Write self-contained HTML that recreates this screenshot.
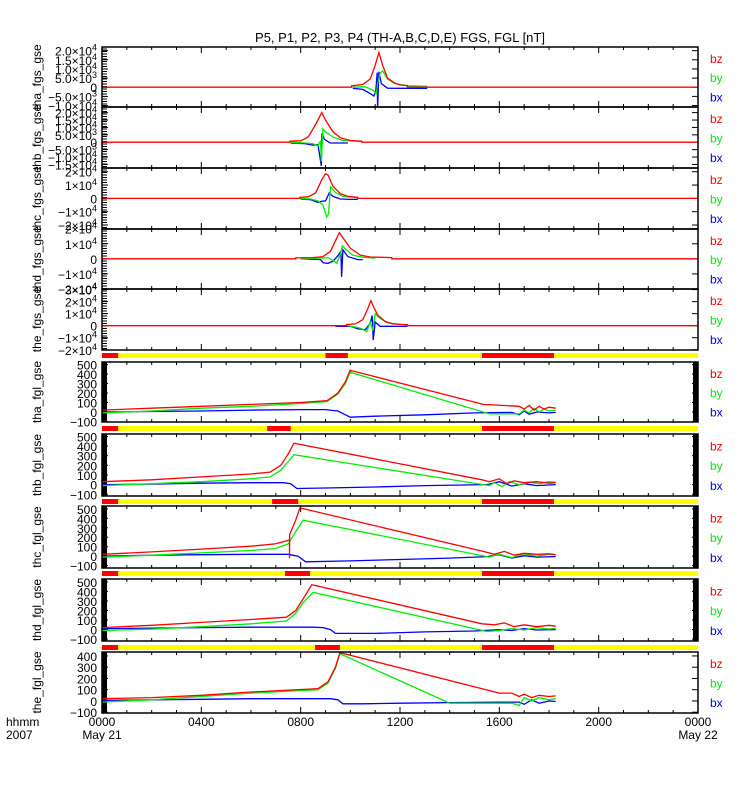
<!DOCTYPE html>
<html><head><meta charset="utf-8"><style>
body{margin:0;background:#fff;}
svg{display:block;font-family:"Liberation Sans",sans-serif;}
</style></head><body>
<svg id="chart" width="750" height="800" viewBox="0 0 750 800">
<rect width="750" height="800" fill="#fff"/>
<text x="400" y="42" text-anchor="middle" font-size="13">P5, P1, P2, P3, P4 (TH-A,B,C,D,E) FGS, FGL [nT]</text>
<g id="plots"></g>
</svg>
<script>
// ---- x axis
const xTickHours=[0,4,8,12,16,20,24];
const xTickLabels=["0000","0400","0800","1200","1600","2000","0000"];
const xTickSub=["May 21","","","","","","May 22"];
// ---- FGS panels
const fgsNames=["tha_fgs_gse","thb_fgs_gse","thc_fgs_gse","thd_fgs_gse","the_fgs_gse"];
const fgsTickVals=[[20000,15000,10000,5000,0,-5000,-10000],[20000,15000,10000,5000,0,-5000,-10000,-15000],[20000,10000,0,-10000,-20000],[20000,10000,0,-10000,-20000],[30000,20000,10000,0,-10000,-20000]];
const fgsTickText=[["2.0×10|4","1.5×10|4","1.0×10|4","5.0×10|3","0","−5.0×10|3","−1.0×10|4"],["2.0×10|4","1.5×10|4","1.0×10|4","5.0×10|3","0","−5.0×10|3","−1.0×10|4","−1.5×10|4"],["2×10|4","1×10|4","0","−1×10|4","−2×10|4"],["2×10|4","1×10|4","0","−1×10|4","−2×10|4"],["3×10|4","2×10|4","1×10|4","0","−1×10|4","−2×10|4"]];
const fgsRange=[[-10800,22000],[-17400,23800],[-23000,22800],[-20000,19800],[-20200,30500]];
// tha fgs
const thaSzT=[0,10.05,10.05,10.5,10.8,11.0,11.15,11.3,11.5,11.8,12.0,12.3,12.3,24];
const thaSz=[0,0,800,1500,4500,12000,19000,12000,5000,2200,1200,900,0,0];
const thaSyT=[10.1,10.6,10.9,11.05,11.1,11.2,11.3,11.5,11.8,12.3,13.1];
const thaSy=[0,300,-1500,-3500,2000,7500,9000,4500,2000,800,500];
const thaSxT=[10.1,10.5,10.8,10.95,11.02,11.08,11.1,11.15,11.25,11.5,12.0,13.1];
const thaSx=[-600,-1200,-3500,-4800,-2500,8000,-12000,8500,2000,-500,-600,-600];
// thb fgs
const thbSzT=[0,7.57,7.57,8.0,8.3,8.6,8.85,9.0,9.3,9.6,10.0,10.46,10.46,24];
const thbSz=[0,0,800,1000,3500,12000,20000,15000,7000,3000,1200,800,0,0];
const thbSyT=[7.6,8.2,8.5,8.7,8.8,8.83,8.9,9.0,9.3,9.7,10.46];
const thbSy=[0,-500,-1000,-2500,1000,-13000,9000,7000,3500,1200,500];
const thbSxT=[7.6,8.2,8.5,8.7,8.83,8.86,8.95,9.2,9.6,9.9];
const thbSx=[-500,-1000,-2000,-1500,-16000,6000,2000,-500,-500,-500];
// thc fgs
const thcSzT=[0,7.97,7.97,8.3,8.6,8.85,9.0,9.1,9.3,9.6,9.9,10.3,10.3,24];
const thcSz=[0,0,800,1200,4000,14000,18500,17500,9000,3500,1500,800,0,0];
const thcSyT=[8.0,8.4,8.7,8.9,9.05,9.12,9.2,9.4,9.7,10.3];
const thcSy=[0,-500,-2000,-5000,-14000,-12000,8700,4500,1500,500];
const thcSxT=[8.0,8.4,8.7,8.9,9.0,9.15,9.3,9.6,10.0,10.3];
const thcSx=[-500,-1000,-3000,-2000,-2000,4000,1500,-500,-800,-800];
// thd fgs
const thdSzT=[0,7.8,7.8,8.5,8.9,9.2,9.4,9.56,9.7,10.0,10.4,10.8,11.67,11.67,24];
const thdSz=[0,0,600,800,1500,5000,12000,17400,14000,7000,2500,1200,800,0,0];
const thdSyT=[8.0,8.8,9.1,9.3,9.45,9.6,9.68,9.8,10.1,10.5,11.0];
const thdSy=[0,500,800,-1000,-3000,3000,8700,6500,2500,1000,500];
const thdSxT=[8.0,8.8,8.9,9.1,9.3,9.5,9.62,9.65,9.7,9.9,10.3,10.5];
const thdSx=[0,-500,-2500,-3000,-1500,2000,5000,-12000,6000,1500,-500,-500];
// the fgs
const theSzT=[0,9.85,9.85,10.2,10.5,10.7,10.83,10.95,11.1,11.4,11.7,12.3,12.3,24];
const theSz=[0,0,1000,1500,5000,14000,20800,15000,9000,3500,1500,800,0,0];
const theSyT=[9.9,10.3,10.5,10.66,10.8,10.9,11.0,11.2,11.5,12.0];
const theSy=[0,-1500,-3000,-5000,3000,-4000,10000,6000,2500,1000];
const theSxT=[9.4,10.0,10.3,10.6,10.8,10.88,10.92,11.0,11.2,11.6,12.3];
const theSx=[-500,-500,-2500,-3500,2000,8500,-12000,3000,-500,-500,-500];
// ---- FGL panels
const fglNames=["tha_fgl_gse","thb_fgl_gse","thc_fgl_gse","thd_fgl_gse","the_fgl_gse"];
const fglTickVals=[[500,400,300,200,100,0,-100],[500,400,300,200,100,0,-100],[500,400,300,200,100,0,-100],[500,400,300,200,100,0,-100],[400,300,200,100,0,-100]];
const fglRange=[[-106,528],[-118,525],[-125,530],[-120,530],[-107,435]];
const thaLzT=[0,2,4,6,8,9.06,9.5,9.8,9.99,15.35,16.8,17.0,17.2,17.4,17.6,17.8,18.0,18.27];
const thaLz=[20,40,60,80,100,120,200,320,440,80,60,30,70,20,60,30,50,40];
const thaLyT=[0,2,4,6,8,9.06,9.5,9.8,9.99,15.6,16.8,17.0,17.2,17.4,17.6,17.8,18.0,18.27];
const thaLy=[-10,10,40,60,90,110,190,300,420,-20,-20,20,-10,40,0,30,10,20];
const thaLxT=[0,2,4,6,8,9.0,9.5,9.8,10.0,11,13,15,16.5,16.8,17.0,17.2,17.5,18.0,18.27];
const thaLx=[0,5,10,20,25,25,10,-30,-55,-45,-30,-10,-5,-30,10,-25,0,-10,-5];
const thbLzT=[0,2,4,6,6.77,7.2,7.5,7.73,15.3,15.6,16,16.3,16.6,17,17.5,18,18.27];
const thbLz=[30,50,80,110,130,200,320,430,50,30,60,10,40,20,30,15,20];
const thbLyT=[0,2,4,6,6.77,7.2,7.5,7.73,15.6,15.8,16.1,16.4,16.8,17.2,17.6,18,18.27];
const thbLy=[-10,10,30,60,80,150,240,310,-10,20,-20,30,0,25,10,30,25];
const thbLxT=[0,2,4,6,7.3,7.6,7.85,9,11,13,15.5,16,16.5,17,17.5,18.27];
const thbLx=[0,5,15,20,20,10,-40,-35,-25,-10,0,30,-15,10,-10,0];
const thcLzT=[0,2,4,6,6.97,7.55,7.55,7.56,7.8,7.97,15.35,15.8,16.2,16.6,17,17.5,18,18.27];
const thcLz=[20,45,75,105,130,170,-20,230,380,510,50,20,50,10,30,20,25,15];
const thcLyT=[0,2,4,6,6.97,7.5,7.8,8.1,15.6,16,16.5,17,17.5,18,18.27];
const thcLy=[-10,10,35,60,80,130,260,380,-10,20,-15,25,0,20,15];
const thcLxT=[0,2,4,6,7.5,7.9,8.2,10,12,14,15.5,16,16.5,17,17.5,18.27];
const thcLx=[0,10,15,20,20,0,-60,-50,-35,-20,-5,15,-20,5,-10,-5];
const thdLzT=[0,2,4,6,7.43,7.8,8.1,8.45,15.3,15.8,16.2,16.6,17,17.5,18,18.27];
const thdLz=[20,45,75,105,130,200,320,470,60,50,70,30,50,30,45,35];
const thdLyT=[0,2,4,6,7.43,7.8,8.1,8.5,15.5,16,16.5,17,17.5,18,18.27];
const thdLy=[-10,5,30,60,90,170,280,390,-20,-10,10,-5,20,5,15];
const thdLxT=[0,2,4,6,8.5,8.9,9.2,9.4,11,13,15,16,16.5,17,17.5,18.27];
const thdLx=[10,15,20,25,25,20,0,-40,-40,-25,-15,0,-10,10,-5,0];
const theLzT=[0,2,4,6,8.7,9.1,9.4,9.58,16.0,16.5,16.8,17,17.3,17.6,18,18.27];
const theLz=[20,30,50,80,110,170,300,430,70,70,40,60,30,50,40,45];
const theLyT=[0,2,4,6,8.7,9.1,9.4,9.58,14,16.5,16.8,17,17.3,17.6,18,18.27];
const theLy=[-10,10,40,70,100,160,290,420,-20,-20,-40,30,0,30,10,20];
const theLxT=[0,2,4,6,9.2,9.5,9.7,10.5,12,14,16,16.8,17,17.3,17.6,18,18.27];
const theLx=[5,10,15,20,20,10,-25,-25,-20,-15,-10,-10,-30,10,-20,0,-5];
// ---- state bars (red intervals, hours)
const barRedStart=[[0,9.0,15.3],[0,6.65,15.3],[0,6.85,15.3],[0,7.37,15.3],[0,8.58,15.3]];
const barRedEnd=[[0.65,9.9,18.2],[0.65,7.6,18.2],[0.65,7.9,18.2],[0.65,8.38,18.2],[0.65,9.58,18.2]];

const NS="http://www.w3.org/2000/svg";
const root=document.getElementById('plots');
const X0=102,X1=698;
function xs(h){return X0+(X1-X0)*h/24;}
function mk(tag,attrs,parent){const e=document.createElementNS(NS,tag);for(const k in attrs)e.setAttribute(k,attrs[k]);(parent||root).appendChild(e);return e;}
const fgsTops=[47,107,168,229,289];
const fgsBots=[107,168,229,289,350];
const fglTops=[362,434,506,579,652];
const fglBots=[422,496,568,641,713];
const barYs=[353,426,499,571,645];
const fgsData=[[thaSzT,thaSz,thaSyT,thaSy,thaSxT,thaSx],[thbSzT,thbSz,thbSyT,thbSy,thbSxT,thbSx],[thcSzT,thcSz,thcSyT,thcSy,thcSxT,thcSx],[thdSzT,thdSz,thdSyT,thdSy,thdSxT,thdSx],[theSzT,theSz,theSyT,theSy,theSxT,theSx]];
const fglData=[[thaLzT,thaLz,thaLyT,thaLy,thaLxT,thaLx],[thbLzT,thbLz,thbLyT,thbLy,thbLxT,thbLx],[thcLzT,thcLz,thcLyT,thcLy,thcLxT,thcLx],[thdLzT,thdLz,thdLyT,thdLy,thdLxT,thdLx],[theLzT,theLz,theLyT,theLy,theLxT,theLx]];
const cols={bz:'#ff0000',by:'#00ee00',bx:'#0000ff'};

function drawPanel(name,top,bot,range,tickVals,tickText,data,isFgl,idx){
  const g=mk('g',{});
  
  
  const ys=v=>bot-(v-range[0])/(range[1]-range[0])*(bot-top);
  const cp='clip'+name;
  const c=mk('clipPath',{id:cp},g);mk('rect',{x:X0,y:top,width:X1-X0,height:bot-top},c);
  for(let h=0;h<=24;h++){
    const L=h%4===0?6:3;
    mk('line',{x1:xs(h),x2:xs(h),y1:top,y2:top+L,stroke:'#000'},g);
    mk('line',{x1:xs(h),x2:xs(h),y1:bot,y2:bot-L,stroke:'#000'},g);
  }
  tickVals.forEach((v,i)=>{
    const y=ys(v);
    mk('line',{x1:X0,x2:X0+6,y1:y,y2:y,stroke:'#000'},g);
    mk('line',{x1:X1,x2:X1-6,y1:y,y2:y,stroke:'#000'},g);
    const t=mk('text',{x:97,y:y+5,'text-anchor':'end','font-size':'12'},g);
    
    
    const s=tickText?tickText[i]:String(v).replace('-','−');
    const parts=s.split('|');
    const a=document.createElementNS(NS,'tspan');a.textContent=parts[0];t.appendChild(a);
    if(parts[1]){const b=document.createElementNS(NS,'tspan');b.setAttribute('dy','-5');b.setAttribute('font-size','9');b.textContent=parts[1];t.appendChild(b);}
  });
  if(isFgl){
    mk('rect',{x:X0,y:top,width:5,height:bot-top,fill:'#000'},g);
    if(idx<4)mk('rect',{x:X1-5,y:top,width:5,height:bot-top,fill:'#000'},g);
  } else {
    for(let y=top+2;y<bot;y+=2.5)mk('line',{x1:X0,x2:X0+5,y1:y,y2:y,stroke:'#000','stroke-width':1},g);
  }
  const order=[['bx',4],['by',2],['bz',0]];
  order.forEach(([k,j])=>{
    const T=data[j],V=data[j+1];
    const pts=T.map((h,i)=>xs(h).toFixed(1)+','+ys(V[i]).toFixed(1)).join(' ');
    const p=mk('polyline',{points:pts,fill:'none',stroke:cols[k],'stroke-width':1.3,'clip-path':'url(#'+cp+')'},g);
    
    
  });
  mk('rect',{x:X0,y:top,width:X1-X0,height:bot-top,fill:'none',stroke:'#000','stroke-width':1.5},g);
  const cy=(top+bot)/2;
  const at=mk('text',{x:0,y:0,transform:'translate(41,'+cy+') rotate(-90)','text-anchor':'middle','font-size':'12'},g);
  at.textContent=name;
  
  
  const h=bot-top;
  [['bz',0.2],['by',0.52],['bx',0.84]].forEach(([k,f])=>{
    const lt=mk('text',{x:710,y:top+h*f+4,'font-size':'12',fill:cols[k]},g);
    lt.textContent=k;
    
    
  });
}
for(let i=0;i<5;i++)drawPanel(fgsNames[i],fgsTops[i],fgsBots[i],fgsRange[i],fgsTickVals[i],fgsTickText[i],fgsData[i],false,i);
for(let i=0;i<5;i++)drawPanel(fglNames[i],fglTops[i],fglBots[i],fglRange[i],fglTickVals[i],null,fglData[i],true,i);
for(let i=0;i<5;i++){
  const y=barYs[i];
  const bg=mk('rect',{x:X0,y:y,width:X1-X0,height:5,fill:'#ffff00'});
  
  
  barRedStart[i].forEach((s,j)=>{
    const r=mk('rect',{x:xs(s),y:y,width:xs(barRedEnd[i][j])-xs(s),height:5,fill:'#ff0000'});
    
    
  });
  if(i>0)mk('line',{x1:X0,x2:X1,y1:fglBots[i-1],y2:fglBots[i-1],stroke:'#000'});
}
xTickHours.forEach((h,i)=>{
  const t=mk('text',{x:xs(h),y:726,'text-anchor':'middle','font-size':'12'});
  t.textContent=xTickLabels[i];
  
  
  if(xTickSub[i]){
    const s=mk('text',{x:xs(h),y:739,'text-anchor':'middle','font-size':'12'});
    s.textContent=xTickSub[i];
    
    
  }
});
const hh=mk('text',{x:6,y:726,'font-size':'12'});hh.textContent='hhmm';


const yr=mk('text',{x:6,y:739,'font-size':'12'});yr.textContent='2007';


</script>
</body></html>
